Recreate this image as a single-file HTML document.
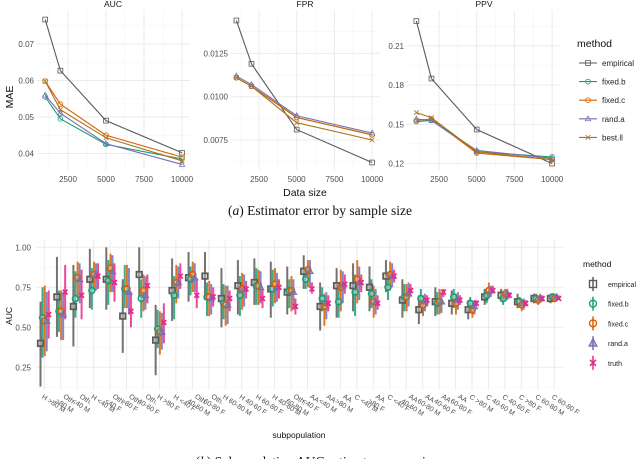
<!DOCTYPE html>
<html><head><meta charset="utf-8">
<style>
html,body{margin:0;padding:0;background:#fff;}
svg{display:block;font-family:"Liberation Sans",sans-serif;}
</style></head>
<body>
<svg id="fig" width="640" height="459" viewBox="0 0 640 459" xmlns="http://www.w3.org/2000/svg">
<g id="topchart"></g>
<g id="botchart"></g>
<text x="320" y="215" text-anchor="middle" font-family="Liberation Serif, serif" font-size="13.5" fill="#111">(<tspan font-style="italic">a</tspan>) Estimator error by sample size</text>
<text x="320" y="466" text-anchor="middle" font-family="Liberation Serif, serif" font-size="13.5" fill="#111">(<tspan font-style="italic">b</tspan>) Subpopulation AUC estimator comparison</text>
</svg>
<script>
// ---------- top chart data ----------
const sizes = [1000, 2000, 5000, 10000];
const methods = ["empirical", "fixed.b", "fixed.c", "rand.a", "best.ll"];
const aucEmpirical = [0.0767, 0.0627, 0.049, 0.0402];
const aucFixedB = [0.0555, 0.0495, 0.0425, 0.0385];
const aucFixedC = [0.0598, 0.0535, 0.045, 0.039];
const aucRandA = [0.056, 0.051, 0.0427, 0.037];
const aucBestLL = [0.0598, 0.052, 0.0443, 0.038];
const fprEmpirical = [0.0144, 0.0119, 0.0081, 0.0062];
const fprFixedB = [0.0111, 0.0106, 0.0088, 0.0078];
const fprFixedC = [0.0111, 0.0106, 0.0088, 0.0078];
const fprRandA = [0.0112, 0.0107, 0.0089, 0.0079];
const fprBestLL = [0.0111, 0.0106, 0.0085, 0.0075];
const ppvEmpirical = [0.229, 0.185, 0.146, 0.120];
const ppvFixedB = [0.152, 0.153, 0.129, 0.125];
const ppvFixedC = [0.153, 0.154, 0.128, 0.123];
const ppvRandA = [0.154, 0.153, 0.130, 0.124];
const ppvBestLL = [0.159, 0.155, 0.129, 0.123];
const xTicks = [2500, 5000, 7500, 10000];
const aucTicks = [0.04, 0.05, 0.06, 0.07];
const fprTicks = [0.0075, 0.0100, 0.0125];
const fprTickLabels = ["0.0075", "0.0100", "0.0125"];
const ppvTicks = [0.12, 0.15, 0.18, 0.21];

// ---------- bottom chart data ----------
const subpops = ["H >80 M","Oth. >80 M","Oth. <40 M","H <40 M","Oth. <40 F","Oth. >80 F","Oth. 40-60 F","H >80 F","H <40 F","Oth. 40-60 M","Oth. 60-80 F","H 60-80 M","H 40-60 F","H 60-80 F","H 40-60 M","Oth. 60-80 M","AA <40 F","AA <40 M","AA >80 M","C <40 M","AA >80 F","C <40 F","AA 40-60 M","AA 60-80 M","AA 40-60 F","AA 60-80 F","C >80 M","C 40-60 M","C 40-60 F","C >80 F","C 60-80 M","C 60-80 F"];
const bMethods = ["empirical","fixed.b","fixed.c","rand.a","truth"];
const empEst = [.40,.69,.63,.80,.80,.57,.83,.42,.73,.81,.82,.68,.76,.78,.74,.72,.85,.63,.76,.76,.75,.82,.67,.61,.66,.65,.61,.69,.70,.66,.68,.68];
const empLo  = [.13,.44,.38,.62,.61,.34,.69,.20,.54,.66,.67,.50,.58,.64,.56,.58,.74,.48,.56,.60,.60,.72,.56,.52,.57,.58,.55,.64,.66,.62,.65,.65];
const empHi  = [.66,.94,.89,.99,1.0,.80,1.0,.64,.93,.97,.97,.87,.92,.93,.91,.88,.95,.78,.87,.90,.88,.92,.80,.70,.75,.73,.67,.74,.74,.71,.71,.71];
const fbEst = [.56,.60,.68,.73,.79,.74,.68,.49,.70,.80,.69,.65,.70,.76,.74,.73,.80,.68,.66,.72,.71,.75,.69,.68,.65,.69,.65,.70,.68,.66,.68,.69];
const fbLo  = [.31,.47,.56,.61,.64,.62,.56,.37,.55,.70,.57,.55,.57,.64,.63,.62,.74,.60,.56,.57,.62,.67,.60,.62,.58,.62,.59,.65,.64,.62,.65,.66];
const fbHi  = [.75,.73,.85,.87,.92,.89,.80,.61,.82,.88,.78,.77,.82,.87,.86,.80,.86,.75,.77,.83,.80,.82,.77,.74,.72,.74,.69,.73,.71,.69,.71,.71];
const fcEst = [.54,.60,.81,.83,.87,.74,.73,.47,.78,.83,.69,.64,.74,.76,.77,.73,.86,.63,.75,.80,.66,.83,.69,.64,.66,.65,.61,.73,.71,.64,.67,.68];
const fcLo  = [.32,.42,.68,.73,.72,.62,.60,.33,.65,.72,.57,.51,.61,.64,.65,.60,.75,.51,.60,.65,.56,.73,.60,.57,.58,.58,.56,.68,.66,.60,.64,.66];
const fcHi  = [.76,.73,.91,.91,.96,.89,.83,.60,.89,.91,.79,.76,.84,.86,.87,.82,.92,.71,.86,.92,.76,.91,.77,.70,.74,.71,.66,.78,.74,.67,.70,.71];
const raEst = [.54,.58,.80,.83,.85,.72,.70,.47,.78,.81,.68,.64,.74,.75,.75,.72,.85,.65,.76,.78,.66,.82,.71,.66,.66,.67,.63,.73,.71,.65,.68,.69];
const raLo  = [.35,.42,.65,.73,.72,.58,.61,.36,.68,.72,.58,.52,.63,.65,.66,.61,.75,.55,.65,.67,.58,.75,.63,.60,.59,.61,.58,.69,.67,.61,.66,.67];
const raHi  = [.72,.72,.90,.90,.95,.87,.82,.59,.88,.90,.77,.76,.83,.85,.84,.80,.92,.72,.85,.88,.74,.90,.78,.71,.72,.72,.67,.76,.74,.68,.71,.71];
const trEst = [.58,.72,.70,.82,.78,.60,.76,.53,.82,.70,.69,.68,.74,.68,.75,.63,.74,.65,.77,.78,.65,.82,.73,.67,.72,.67,.65,.73,.70,.65,.68,.68];
const trLo  = [.43,.55,.55,.74,.66,.50,.65,.40,.74,.62,.63,.60,.68,.62,.68,.58,.71,.60,.71,.72,.61,.78,.70,.63,.69,.64,.63,.71,.68,.63,.66,.67];
const trHi  = [.73,.89,.86,.90,.90,.72,.83,.65,.90,.80,.75,.73,.79,.74,.80,.68,.78,.70,.83,.83,.70,.86,.77,.70,.74,.70,.67,.76,.72,.67,.70,.70];
const aucYTicks = [0.25, 0.50, 0.75, 1.00];
const aucYLabels = ["0.25", "0.50", "0.75", "1.00"];

const NS = "http://www.w3.org/2000/svg";
function mk(parent, tag, attrs, text) {
  const e = document.createElementNS(NS, tag);
  for (const k in attrs) e.setAttribute(k, attrs[k]);
  if (text !== undefined) e.textContent = text;
  parent.appendChild(e);
  return e;
}
const colors = {"empirical":"#5a5a5a","fixed.b":"#1b9e77","fixed.c":"#d95f02","rand.a":"#7570b3","best.ll":"#a6761d","truth":"#e7298a"};

function marker(g, m, x, y, s, sw) {
  const c = colors[m];
  let e;
  if (m === "empirical") e = mk(g, "rect", {x:x-s, y:y-s, width:2*s, height:2*s, fill:"none", stroke:c, "stroke-width":sw});
  else if (m === "fixed.b" || m === "fixed.c") e = mk(g, "circle", {cx:x, cy:y, r:s, fill:"none", stroke:c, "stroke-width":sw});
  else if (m === "rand.a") e = mk(g, "path", {d:`M${x} ${y-s*1.2}L${x+s*1.1} ${y+s*0.8}L${x-s*1.1} ${y+s*0.8}Z`, fill:"none", stroke:c, "stroke-width":sw});
  else e = mk(g, "path", {d:`M${x-s} ${y-s}L${x+s} ${y+s}M${x+s} ${y-s}L${x-s} ${y+s}`, fill:"none", stroke:c, "stroke-width":sw});
  return e;
}

// ---------- top panels ----------
const topG = document.getElementById("topchart");
const panels = [
  {name:"auc", title:"AUC", tx:113, x0:37, x1:190, xs:68, xk:38/2500, yref:0.07, ypx:44, yk:3650, ticks:aucTicks, tl:aucTicks.map(v=>v.toFixed(2)), minor:[0.035,0.045,0.055,0.065,0.075],
   series:[aucEmpirical,aucFixedB,aucFixedC,aucRandA,aucBestLL]},
  {name:"fpr", title:"FPR", tx:305, x0:231, x1:380, xs:259, xk:37.7/2500, yref:0.01, ypx:96.7, yk:17320, ticks:fprTicks, tl:fprTickLabels, minor:[0.00625,0.00875,0.01125,0.01375],
   series:[fprEmpirical,fprFixedB,fprFixedC,fprRandA,fprBestLL]},
  {name:"ppv", title:"PPV", tx:484, x0:407, x1:560, xs:439, xk:37.7/2500, yref:0.15, ypx:124.3, yk:1307, ticks:ppvTicks, tl:ppvTicks.map(v=>v.toFixed(2)), minor:[0.135,0.165,0.195,0.225],
   series:[ppvEmpirical,ppvFixedB,ppvFixedC,ppvRandA,ppvBestLL]}
];
const PT = 10, PB = 170;
panels.forEach(p => {
  const g = mk(topG, "g", {});
  
  
  const X = v => p.xs + (v - 2500) * p.xk;
  const Y = v => p.ypx + (p.yref - v) * p.yk;
  p.minor.forEach(v => { const yy = Y(v); if (yy > PT && yy < PB) mk(g, "line", {x1:p.x0, x2:p.x1, y1:yy, y2:yy, stroke:"#f3f3f3", "stroke-width":0.6}); });
  [1250,3750,6250,8750].forEach(v => mk(g, "line", {x1:X(v), x2:X(v), y1:PT, y2:PB, stroke:"#f3f3f3", "stroke-width":0.6}));
  p.ticks.forEach((v, i) => {
    const yy = Y(v);
    mk(g, "line", {x1:p.x0, x2:p.x1, y1:yy, y2:yy, stroke:"#ebebeb", "stroke-width":1});
    const t = mk(g, "text", {x:p.x0 - 3, y:yy + 3, "text-anchor":"end", "font-size":8, fill:"#4d4d4d"}, p.tl[i]);
    
    
  });
  xTicks.forEach(v => {
    mk(g, "line", {x1:X(v), x2:X(v), y1:PT, y2:PB, stroke:"#ebebeb", "stroke-width":1});
    const t = mk(g, "text", {x:X(v), y:182, "text-anchor":"middle", "font-size":8, fill:"#4d4d4d"}, String(v));
    
    
  });
  const tt = mk(g, "text", {x:p.tx, y:7, "text-anchor":"middle", "font-size":8.5, fill:"#1a1a1a"}, p.title);
  
  
  p.series.forEach((vals, si) => {
    const m = methods[si];
    const sg = mk(g, "g", {});
    
    
    const pts = vals.map((v, i) => X(sizes[i]) + "," + Y(v)).join(" ");
    mk(sg, "polyline", {points:pts, fill:"none", stroke:colors[m], "stroke-width":1.1});
    vals.forEach((v, i) => {
      const e = marker(sg, m, X(sizes[i]), Y(v), 2.4, 0.8);
      
      
    });
  });
});
const mae = mk(topG, "text", {x:0, y:0, transform:"translate(13,97) rotate(-90)", "text-anchor":"middle", "font-size":10.5, fill:"#111"}, "MAE");


const ds = mk(topG, "text", {x:305, y:196, "text-anchor":"middle", "font-size":10.5, fill:"#111"}, "Data size");


const lg = mk(topG, "g", {});


mk(lg, "text", {x:577, y:47, "font-size":10.5, fill:"#111"}, "method");
methods.forEach((m, i) => {
  const y = 63 + i * 18.6;
  const eg = mk(lg, "g", {});
  
  
  mk(eg, "line", {x1:579, x2:597, y1:y, y2:y, stroke:colors[m], "stroke-width":1.1});
  marker(eg, m, 588, y, 2.4, 0.8);
  mk(eg, "text", {x:602, y:y + 3, "font-size":8, fill:"#222"}, m);
});

// ---------- bottom chart ----------
const botG = document.getElementById("botchart");
const BX0 = 36, BX1 = 563, BT = 240, BB = 390;
const bx = i => 44.3 + i * 16.45;
const by = v => 247.3 + (1 - v) * 160;
for (let v = 0.125; v <= 1.06; v += 0.25) { const yy = by(v); if (yy < BB) mk(botG, "line", {x1:BX0, x2:BX1, y1:yy, y2:yy, stroke:"#f3f3f3", "stroke-width":0.6}); }
aucYTicks.forEach((v, i) => {
  mk(botG, "line", {x1:BX0, x2:BX1, y1:by(v), y2:by(v), stroke:"#ebebeb", "stroke-width":1});
  const t = mk(botG, "text", {x:31, y:by(v) + 3, "text-anchor":"end", "font-size":8, fill:"#4d4d4d"}, aucYLabels[i]);
  
  
});
subpops.forEach((s, i) => {
  mk(botG, "line", {x1:bx(i), x2:bx(i), y1:BT, y2:BB, stroke:"#ebebeb", "stroke-width":1});
  const parts = s.split(" ");
  const first = parts[0], rest = parts.slice(1).join(" ");
  const t = mk(botG, "text", {transform:`translate(${bx(i) - 3},${398}) rotate(33)`, "font-size":7, fill:"#4d4d4d"});
  
  
  if (first === "Oth." || first === "AA") {
    mk(t, "tspan", {x:4, y:-3}, first);
    mk(t, "tspan", {x:0, y:5}, rest);
  } else {
    mk(t, "tspan", {x:0, y:0}, s);
  }
});
const estSets = [[empEst,empLo,empHi],[fbEst,fbLo,fbHi],[fcEst,fcLo,fcHi],[raEst,raLo,raHi],[trEst,trLo,trHi]];
const offs = [-3.8, -1.8, 0.4, 2.4, 4.4];
estSets.forEach((set, si) => {
  const m = bMethods[si];
  const sg = mk(botG, "g", {});
  
  
  set[0].forEach((v, i) => {
    const x = bx(i) + offs[si];
    const bar = mk(sg, "line", {x1:x, x2:x, y1:by(set[1][i]), y2:by(set[2][i]), stroke:colors[m], "stroke-width":2, "stroke-opacity":0.85});
    
    
  });
});
estSets.forEach((set, si) => {
  const m = bMethods[si];
  const sg = mk(botG, "g", {});
  
  
  set[0].forEach((v, i) => {
    const x = bx(i) + offs[si];
    let e;
    if (m === "truth") {
      e = marker(sg, "best.ll", x, by(v), 2.4, 1.7);
      e.setAttribute("stroke", colors.truth);
    } else if (m === "rand.a") {
      e = mk(sg, "path", {d:`M${x} ${by(v)-3.2}L${x+3.2} ${by(v)+2.3}L${x-3.2} ${by(v)+2.3}Z`, fill:colors[m], "fill-opacity":0.6, stroke:colors[m], "stroke-width":1});
    } else {
      e = marker(sg, m, x, by(v), m === "empirical" ? 2.8 : 2.9, 1.7);
      e.setAttribute("fill", m === "empirical" ? "#bbbbbb" : "#fff");
      e.setAttribute("fill-opacity", m === "empirical" ? 0.6 : 0.3);
    }
    
    
  });
});
const ya = mk(botG, "text", {transform:"translate(12,316) rotate(-90)", "text-anchor":"middle", "font-size":8.5, fill:"#111"}, "AUC");


const xa = mk(botG, "text", {x:299, y:438, "text-anchor":"middle", "font-size":8.5, fill:"#111"}, "subpopulation");


const bl = mk(botG, "g", {});


mk(bl, "text", {x:583, y:267, "font-size":8.5, fill:"#111"}, "method");
bMethods.forEach((m, i) => {
  const y = 284 + i * 19.7;
  const eg = mk(bl, "g", {});
  
  
  mk(eg, "line", {x1:593, x2:593, y1:y - 7, y2:y + 7, stroke:colors[m], "stroke-width":1.5});
  if (m === "truth") marker(eg, "best.ll", 593, y, 3, 1.6).setAttribute("stroke", colors.truth);
  else if (m === "rand.a") mk(eg, "path", {d:`M593 ${y-4.5}L597 ${y+3}L589 ${y+3}Z`, fill:colors[m], "fill-opacity":0.5, stroke:colors[m], "stroke-width":1.2});
  else marker(eg, m, 593, y, 3.5, 1.4);
  mk(eg, "text", {x:608, y:y + 3, "font-size":7, fill:"#222"}, m);
});
</script>
</body></html>
